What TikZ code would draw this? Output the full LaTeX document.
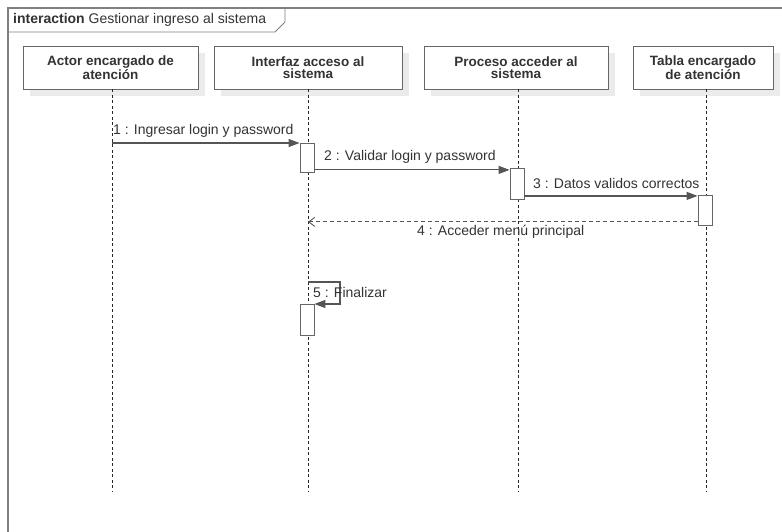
\documentclass[tikz,border=0pt]{standalone}
\usepackage{fontspec}
\setmainfont{Liberation Sans}
\usetikzlibrary{arrows.meta}
\definecolor{framegray}{HTML}{808080}
\definecolor{boxline}{HTML}{666666}
\definecolor{shadowgray}{HTML}{EBEBEB}
\definecolor{txt}{HTML}{333333}
\definecolor{msgline}{HTML}{555555}
\tikzset{
  head/.style={draw=boxline, line width=0.9pt, fill=white, minimum width=#1, minimum height=43pt,
    inner sep=0pt, align=center, font=\bfseries\fontsize{13.5}{12.5}\selectfont, text=txt},
  headshadow/.style={fill=shadowgray, draw=none},
  lifeline/.style={draw=black!85, line width=0.7pt, dash pattern=on 3pt off 2.5pt},
  act/.style={draw=boxline, line width=0.9pt, fill=white, minimum width=14pt, minimum height=#1, inner sep=0pt},
  msg/.style={draw=msgline, line width=1.2pt, -{Triangle[length=11pt,width=8pt]}},
  reply/.style={draw=msgline, line width=0.9pt, dash pattern=on 4pt off 3pt, -{Straight Barb[length=6pt,width=9pt]}},
  lbl/.style={font=\fontsize{14}{14}\selectfont, text=txt, inner sep=0pt},
}
\begin{document}
\begin{tikzpicture}[x=1pt,y=-1pt]
\useasboundingbox (0,0) rectangle (782,532);
\fill[white] (0,0) rectangle (782,532);

% interaction frame and its tab
\draw[framegray, line width=1.2pt] (8,532) -- (8,8) -- (782,8);
\draw[framegray, line width=0.9pt] (8,32) -- (275,32) -- (285,22) -- (285,8);
\node[lbl, anchor=west] (title) at (13,20) {\textbf{interaction} Gestionar ingreso al sistema};

% lifeline heads with drop shadows
\fill[headshadow] (30,53) rectangle (205,96);
\fill[headshadow] (221,53) rectangle (409,96);
\fill[headshadow] (431,53) rectangle (615,96);
\fill[headshadow] (640,53) rectangle (780,96);
\node[head=175pt] (h1) at (110.5,67.5) {Actor encargado de\\atención};
\node[head=188pt] (h2) at (308,67.5) {Interfaz acceso al\\sistema};
\node[head=184pt] (h3) at (516,67.5) {Proceso acceder al\\sistema};
\node[head=140pt] (h4) at (703,67.5) {Tabla encargado\\de atención};

% lifeline ends
\coordinate (e1) at (112,492);
\coordinate (e2) at (308,492);
\coordinate (e3) at (518,492);
\coordinate (e4) at (706,492);
\draw[lifeline] (e1 |- h1.south) -- (e1);
\draw[lifeline] (e2 |- h2.south) -- (e2);
\draw[lifeline] (e3 |- h3.south) -- (e3);
\draw[lifeline] (e4 |- h4.south) -- (e4);

% activation bars
\node[act=29pt, anchor=north] (a2) at (307,143) {};
\node[act=31pt, anchor=north] (a3) at (517,168) {};
\node[act=30pt, anchor=north] (a4) at (705,195) {};
\node[act=31pt, anchor=north] (a5) at (307,304) {};

% message 1
\coordinate (m1s) at (112,143);
\draw[msg] (m1s) -- (a2.north west);
\node[lbl, anchor=west] (l1) at (113,131) {1 : Ingresar login y password};

% message 2
\coordinate (m2s) at ([yshift=3pt]a2.south east);
\draw[msg] (m2s) -- (m2s -| a3.west);
\node[lbl, anchor=west] (l2) at (324,157) {2 : Validar login y password};

% message 3
\coordinate (m3s) at ([yshift=4pt]a3.south east);
\draw[msg] (m3s) -- (m3s -| a4.west);
\node[lbl, anchor=west] (l3) at (533,183) {3 : Datos validos correctos};

% message 4 (return)
\coordinate (m4s) at ([yshift=4pt]a4.south west);
\draw[reply] (m4s) -- (m4s -| e2);
\node[lbl, anchor=west] (l4) at (417,232) {4 : Acceder menú principal};

% message 5 (self call)
\coordinate (m5s) at (308,282);
\coordinate (m5r) at (340,282);
\draw[msg] (m5s) -- (m5r) |- (a5.north east);
\node[lbl, anchor=west] (l5) at (313,292) {5 : Finalizar};
\end{tikzpicture}
\end{document}
